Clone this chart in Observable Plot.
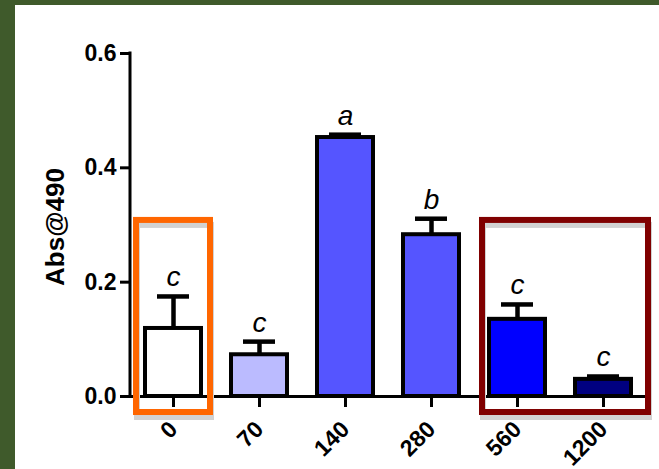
<!DOCTYPE html>
<html><head><meta charset="utf-8">
<script src="https://cdn.jsdelivr.net/npm/d3@7"></script>
<script src="https://cdn.jsdelivr.net/npm/@observablehq/plot@0.6"></script>
<style>
html,body{margin:0;padding:0;background:#3f5a2b;width:659px;height:469px;overflow:hidden}
#panel{position:absolute;left:15px;top:5px;width:644px;height:464px;background:#fff}
</style></head><body><div id="panel"></div>
<script>
const doses = ["0","70","140","280","560","1200"];
const means = [0.119,0.073,0.453,0.283,0.135,0.030];
const errors = [0.056,0.023,0.005,0.028,0.026,0.005];
const letters = ["c","c","a","b","c","c"];
const fills = ["#ffffff","#bbbbff","#5555ff","#5555ff","#0000ff","#000080"];
const yTicks = [0,0.2,0.4,0.6];
const yLabel = "Abs@490";
const boxFrom = ["0","560"];
const boxTo = ["0","1200"];
const boxColors = ["#ff6600","#800000"];
const boxRange = [-0.028, 0.308];

const rows = doses.map((d,i)=>({dose:d, mean:means[i], err:errors[i], top:means[i]+errors[i], letter:letters[i], fill:fills[i]}));
const boxPad = [[9,9],[7,17]];

function yAxisLine(index, scales, values, dimensions) {
  const y = scales.y;
  const g = d3.create("svg:g");
  g.append("line")
    .attr("x1", dimensions.marginLeft).attr("x2", dimensions.marginLeft)
    .attr("y1", y(yTicks[0]) + 1.5).attr("y2", y(yTicks[yTicks.length-1]) - 1.5)
    .attr("stroke","black").attr("stroke-width",3);
  return g.node();
}

function boxesMark(index, scales, values, dimensions) {
  const x = scales.x, y = scales.y;
  const bw = typeof x.bandwidth === "function" ? x.bandwidth() : scales.scales.x.bandwidth;
  const g = d3.create("svg:g").attr("fill","none");
  boxFrom.forEach((f,i)=>{
    const x1 = x(f) - boxPad[i][0];
    const x2 = x(boxTo[i]) + bw + boxPad[i][1];
    const y1 = y(boxRange[1]), y2 = y(boxRange[0]);
    g.append("rect").attr("x", x1+1).attr("y", y1+5).attr("width", x2-x1).attr("height", y2-y1)
      .attr("stroke","#d2d2d2").attr("stroke-width",6);
    g.append("rect").attr("x", x1).attr("y", y1).attr("width", x2-x1).attr("height", y2-y1)
      .attr("stroke",boxColors[i]).attr("stroke-width",6);
  });
  return g.node();
}

const chart = Plot.plot({
  width: 644, height: 464,
  marginLeft: 115, marginRight: 13, marginTop: 48, marginBottom: 73,
  style: {fontFamily: "Arial, 'Liberation Sans', sans-serif", background: "white", color: "black"},
  x: {domain: doses, paddingInner: 0.35, paddingOuter: 0.175},
  y: {domain: [0, 0.6]},
  color: {type: "identity"},
  marks: [
    Plot.ruleY([0], {strokeWidth: 3}),
    yAxisLine,
    Plot.axisY({ticks: yTicks, tickFormat: d3.format(".1f"), tickSize: 10, tickPadding: 4, strokeWidth: 3, fontSize: 23, fontWeight: "bold", label: null}),
    Plot.axisX({tickSize: 11, tickPadding: 18, tickRotate: -45, strokeWidth: 3, fontSize: 23, fontWeight: "bold", label: null}),
    Plot.text([yLabel], {frameAnchor: "left", dx: -75, dy: 2, rotate: -90, textAnchor: "middle", fontSize: 26, fontWeight: "bold"}),
    Plot.ruleX(rows, {x: "dose", y1: "mean", y2: "top", strokeWidth: 4.5}),
    Plot.tickY(rows, {x: "dose", y: "top", strokeWidth: 4.5, insetLeft: 12, insetRight: 12}),
    Plot.barY(rows, {x: "dose", y: "mean", fill: "fill", stroke: "black", strokeWidth: 4}),
    Plot.text(rows, {x: "dose", y: "top", text: "letter", dy: -19, fontSize: 28, fontStyle: "italic"}),
    boxesMark
  ]
});
document.getElementById("panel").appendChild(chart);
</script>
</body></html>
